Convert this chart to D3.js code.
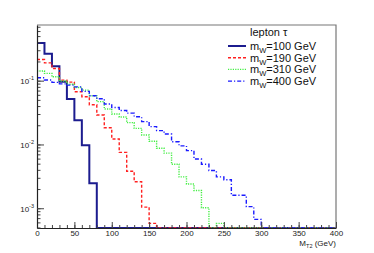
<!DOCTYPE html>
<html>
<head>
<meta charset="utf-8">
<script src="https://cdn.jsdelivr.net/npm/d3@7/dist/d3.min.js"></script>
<style>
  body { margin: 0; background: #fff; }
  text { font-family: "Liberation Sans", Arial, sans-serif; }
</style>
</head>
<body>
<svg id="chart" width="374" height="253"></svg>
<script>
// bin low edges, 10 GeV wide, 0..390
const binEdges = [0, 10, 20, 30, 40, 50, 60, 70, 80, 90, 100, 110, 120, 130, 140, 150, 160, 170, 180, 190,
  200, 210, 220, 230, 240, 250, 260, 270, 280, 290, 300, 310, 320, 330, 340, 350, 360, 370, 380, 390, 400];

const mw100 = [0.39, 0.265, 0.168, 0.0965, 0.0517, 0.024, 0.0097, 0.00247, 0, 0,
  0, 0, 0, 0, 0, 0, 0, 0, 0, 0, 0, 0, 0, 0, 0, 0, 0, 0, 0, 0, 0, 0, 0, 0, 0, 0, 0, 0, 0, 0];
const mw190 = [0.215, 0.19, 0.155, 0.102, 0.095, 0.067, 0.056, 0.042, 0.029, 0.0183,
  0.0122, 0.0075, 0.0038, 0.0026, 0.00104, 0.00058, 0, 0, 0, 0,
  0, 0, 0, 0, 0, 0, 0, 0, 0, 0, 0, 0, 0, 0, 0, 0, 0, 0, 0, 0];
const mw310 = [0.142, 0.13, 0.115, 0.099, 0.088, 0.078, 0.071, 0.058, 0.047, 0.036,
  0.030, 0.027, 0.022, 0.0179, 0.0141, 0.0112, 0.0087, 0.0073, 0.0049, 0.0031,
  0.0024, 0.0019, 0.00102, 0, 0.00058, 0, 0, 0, 0, 0, 0, 0, 0, 0, 0, 0, 0, 0, 0, 0];
const mw400 = [0.111, 0.1025, 0.094, 0.089, 0.085, 0.08, 0.068, 0.058, 0.052, 0.043,
  0.038, 0.034, 0.031, 0.0272, 0.0228, 0.019, 0.0165, 0.0146, 0.011, 0.0095,
  0.008, 0.0059, 0.0049, 0.0039, 0.0031, 0.0028, 0.0016, 0.0016, 0.00106, 0.00067,
  0, 0, 0, 0, 0, 0, 0, 0, 0, 0];

const seriesNames = ['100', '190', '310', '400'];
const xTickValues = [0, 50, 100, 150, 200, 250, 300, 350, 400];
const yTickValues = [1e-3, 1e-2, 1e-1];
const yTickExponents = ['-3', '-2', '-1'];

const styles = [
  { color: '#1c1c8f', width: 2, dash: null },
  { color: '#ff2020', width: 1.4, dash: '3,2' },
  { color: '#44ee44', width: 1.4, dash: '1.2,1.2' },
  { color: '#1a1aff', width: 1.4, dash: '4,2,1.2,2' },
];

const svg = d3.select('#chart');
const margin = { top: 25, right: 38, bottom: 25, left: 37 };
const width = 374, height = 253;
const innerH = height - margin.bottom;

const x = d3.scaleLinear().domain([0, 400]).range([margin.left, width - margin.right]);
const y = d3.scaleLog().domain([4.9e-4, 0.746]).range([innerH, margin.top]);

const ymin = y.domain()[0];

// histograms as step paths, empty bins sit on the lower edge
const allSeries = [mw100, mw190, mw310, mw400];
allSeries.forEach((vals, s) => {
  const pts = [];
  vals.forEach((v, i) => {
    const yy = y(Math.max(v, ymin));
    pts.push([x(binEdges[i]), yy]);
    pts.push([x(binEdges[i + 1]), yy]);
  });
  const p = svg.append('path')
    .attr('d', d3.line()(pts))
    .attr('fill', 'none')
    .attr('stroke', styles[s].color)
    .attr('stroke-width', styles[s].width);
  if (styles[s].dash) p.attr('stroke-dasharray', styles[s].dash);
});

// frame top/right
svg.append('path')
  .attr('d', `M${margin.left},${margin.top}H${width - margin.right}V${innerH}`)
  .attr('fill', 'none').attr('stroke', '#777').attr('stroke-width', 1.2);

// x axis major + minor
const xMinor = svg.append('g').attr('transform', `translate(0,${innerH})`)
  .call(d3.axisBottom(x).ticks(40).tickSize(-3).tickFormat(''));
xMinor.select('.domain').remove();
xMinor.selectAll('line').attr('stroke', '#444');

const xAxis = svg.append('g').attr('transform', `translate(0,${innerH})`)
  .call(d3.axisBottom(x).tickValues(xTickValues).tickSize(-6).tickPadding(2).tickSizeOuter(0));
xAxis.select('.domain').attr('stroke', '#222').attr('stroke-width', 1.2);
xAxis.selectAll('line').attr('stroke', '#444');
xAxis.selectAll('text').attr('font-size', 8).attr('fill', '#222')
  .attr('font-family', '"Liberation Sans", Arial, sans-serif');

// y axis major + minor
const yMinor = svg.append('g').attr('transform', `translate(${margin.left},0)`)
  .call(d3.axisLeft(y).tickValues(y.ticks()).tickSize(-3.5).tickFormat(''));
yMinor.select('.domain').remove();
yMinor.selectAll('line').attr('stroke', '#444');

const yAxis = svg.append('g').attr('transform', `translate(${margin.left},0)`)
  .call(d3.axisLeft(y).tickValues(yTickValues).tickSize(-7).tickSizeOuter(0).tickFormat(''));
yAxis.select('.domain').attr('stroke', '#222').attr('stroke-width', 1.2);
yAxis.selectAll('line').attr('stroke', '#444');
yAxis.selectAll('.tick').each(function (d, i) {
  const t = d3.select(this).append('text')
    .attr('x', -3).attr('y', 3).attr('text-anchor', 'end')
    .attr('fill', '#222').attr('font-size', 8);
  t.append('tspan').text('10');
  t.append('tspan').attr('font-size', 5.5).attr('dy', -4).text(yTickExponents[i]);
});

// x title
const xt = svg.append('text')
  .attr('x', width - margin.right).attr('y', 246)
  .attr('text-anchor', 'end').attr('font-size', 8).attr('fill', '#222');
xt.append('tspan').text('M');
xt.append('tspan').attr('font-size', 5.5).attr('dy', 2).text('T2');
xt.append('tspan').attr('dy', -2).text(' (GeV)');

// legend
const lg = svg.append('g');
lg.append('text').attr('x', 250).attr('y', 36).attr('font-size', 11).attr('fill', '#111')
  .text('lepton τ');
seriesNames.forEach((name, i) => {
  const yy = 50 + i * 11.7;
  const s = styles[i];
  const l = lg.append('line')
    .attr('x1', 228).attr('x2', 246)
    .attr('y1', yy - 4).attr('y2', yy - 4)
    .attr('stroke', s.color).attr('stroke-width', s.width);
  if (s.dash) l.attr('stroke-dasharray', s.dash);
  const t = lg.append('text').attr('x', 250).attr('y', yy)
    .attr('font-size', 11).attr('fill', '#111');
  t.append('tspan').text('m');
  t.append('tspan').attr('font-size', 7.5).attr('dy', 3).text('W');
  t.append('tspan').attr('dy', -3).text(`=${name} GeV`);
});
</script>
</body>
</html>
